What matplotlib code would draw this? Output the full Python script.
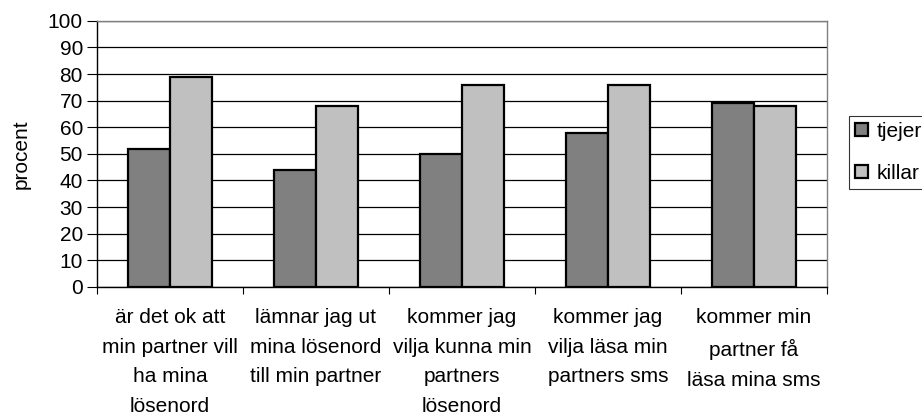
import matplotlib
matplotlib.use("Agg")
import matplotlib.pyplot as plt
import numpy as np

# data
categories = [
  "är det ok att\nmin partner vill\nha mina\nlösenord",
  "lämnar jag ut\nmina lösenord\ntill min partner",
  "kommer jag\nvilja kunna min\npartners\nlösenord",
  "kommer jag\nvilja läsa min\npartners sms",
  "kommer min\npartner få\nläsa mina sms",
]
tjejer = [52, 44, 50, 58, 69]
killar = [79, 68, 76, 76, 68]
yticks = list(range(0, 101, 10))

plt.rcParams["font.family"] = ["Liberation Sans", "DejaVu Sans"]
plt.rcParams["font.size"] = 15

fig = plt.figure(figsize=(9.22, 4.17), dpi=100)
ax = fig.add_axes([0.105, 0.312, 0.792, 0.638])

x = np.arange(len(categories))
width = 0.287

ax.bar(x - width/2, tjejer, width, color="#808080", edgecolor="black", linewidth=1.6, label="tjejer", zorder=3)
ax.bar(x + width/2, killar, width, color="#c0c0c0", edgecolor="black", linewidth=1.6, label="killar", zorder=3)

ax.set_xlim(-0.5, len(categories) - 0.5)
ax.set_ylim(0, 100)
ax.set_yticks(yticks)
ax.yaxis.grid(True, color="black", linewidth=0.9, zorder=0)

# boundary ticks below, labels centred on categories
ax.set_xticks(np.arange(len(categories) + 1) - 0.5)
ax.set_xticklabels([])
ax.set_xticks(x, minor=True)
ax.set_xticklabels(categories, minor=True, linespacing=1.72)
ax.tick_params(axis="x", which="minor", length=0, pad=15)
ax.tick_params(axis="x", which="major", length=5, direction="out", color="black")
ax.tick_params(axis="y", length=7, direction="out", pad=3, color="black")

ax.spines["left"].set_color("black")
ax.spines["bottom"].set_color("black")
ax.spines["top"].set_color("#808080")
ax.spines["right"].set_color("#808080")
for s in ax.spines.values():
  s.set_linewidth(1)

ax.set_ylabel("procent", labelpad=12)

leg = fig.legend(loc="upper left", bbox_to_anchor=(0.921, 0.722), frameon=True, fancybox=False,
  edgecolor="black", handlelength=0.6, handleheight=0.6, handletextpad=0.4,
  labelspacing=1.1, borderpad=0.3, borderaxespad=0)
leg.get_frame().set_linewidth(0.8)

fig.savefig("out.png", dpi=100)
